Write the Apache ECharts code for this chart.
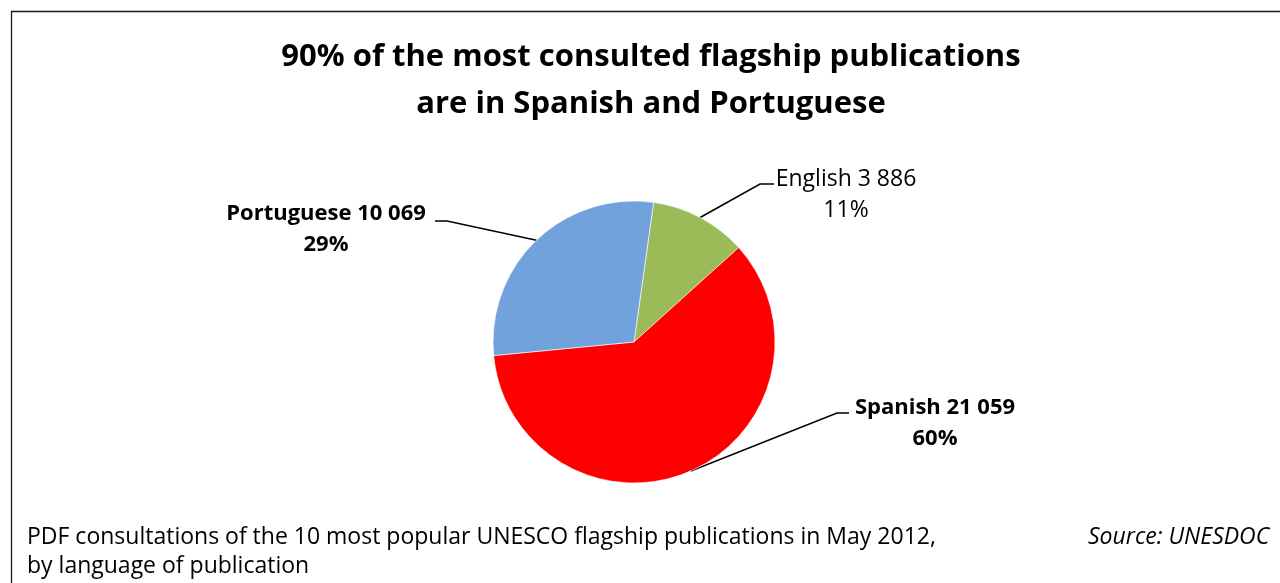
<!DOCTYPE html>
<html>
<head>
<meta charset="utf-8">
<script src="https://cdn.jsdelivr.net/npm/echarts@6/dist/echarts.min.js"></script>
<style>
html,body{margin:0;padding:0;background:#fff;}
#chart{width:1280px;height:583px;}
</style>
</head>
<body>
<div id="chart"></div>
<script>
// ---- data ----
var categories = ['English', 'Spanish', 'Portuguese'];
var values = [3886, 21059, 10069];
var sliceColors = ['#9BBB59', '#FF0000', '#72A2DB'];
var labelBold = [false, true, true];
var labelSize = [23, 22, 22];
var titleText = '90% of the most consulted flagship publications\nare in Spanish and Portuguese';
var footerText = 'PDF consultations of the 10 most popular UNESCO flagship publications in May 2012,\nby language of publication';
var sourceText = 'Source: UNESDOC';

// ---- label placement (layout only) ----
var labelPos = [
  {x: 846, y: 194.5, endDx: -72, elbowDx: -86, lineDy: -10.5},
  {x: 935, y: 423,   endDx: -86, elbowDx: -98, lineDy: -10},
  {x: 326, y: 229,   endDx: 109, elbowDx: 121, lineDy: -8}
];

function fmtNum(v) {
  return String(v).replace(/\B(?=(\d{3})+(?!\d))/g, ' ');
}

var FONT = 'Open Sans';
var data = categories.map(function (c, i) {
  return {
    name: c,
    value: values[i],
    itemStyle: {color: sliceColors[i]},
    label: {fontWeight: labelBold[i] ? 'bold' : 'normal', fontSize: labelSize[i]}
  };
});

var chart = echarts.init(document.getElementById('chart'), null, {renderer: 'canvas'});
chart.setOption({
  backgroundColor: '#fff',
  animation: false,
  title: [
    {
      text: titleText, left: 651, top: 34, textAlign: 'center', padding: 0,
      textStyle: {fontFamily: FONT, fontSize: 31, fontWeight: 'bold', color: '#000', lineHeight: 47}
    },
    {
      text: footerText, left: 27, top: 523, padding: 0,
      textStyle: {fontFamily: FONT, fontSize: 23, fontWeight: 'normal', color: '#000', lineHeight: 29}
    },
    {
      text: sourceText, left: 1088, top: 523, padding: 0,
      textStyle: {fontFamily: FONT, fontSize: 23, fontWeight: 'normal', fontStyle: 'italic', color: '#000', lineHeight: 29}
    }
  ],
  graphic: [{
    type: 'rect', silent: true, z: -1,
    shape: {x: 11.5, y: 11.5, width: 1400, height: 700},
    style: {fill: null, stroke: '#1a1a1a', lineWidth: 1.3}
  }],
  series: [{
    type: 'pie',
    center: [634, 342],
    radius: 141,
    startAngle: 82,
    clockwise: true,
    avoidLabelOverlap: false,
    data: data,
    itemStyle: {borderColor: '#fff', borderWidth: 0.6},
    label: {
      show: true,
      position: 'outside',
      fontFamily: FONT,
      fontSize: 22,
      color: '#000',
      lineHeight: 31,
      formatter: function (p) {
        return p.name + ' ' + fmtNum(p.value) + '\n' + Math.round(p.percent) + '%';
      }
    },
    labelLine: {show: true, length: 20, length2: 20, lineStyle: {color: '#000', width: 1.5}},
    labelLayout: function (params) {
      var lp = labelPos[params.dataIndex];
      var p0 = params.labelLinePoints ? params.labelLinePoints[0] : [lp.x, lp.y];
      var ly = lp.y + lp.lineDy;
      return {
        x: lp.x, y: lp.y, align: 'center', verticalAlign: 'middle',
        labelLinePoints: [p0, [lp.x + lp.elbowDx, ly], [lp.x + lp.endDx, ly]]
      };
    }
  }]
});
</script>
</body>
</html>
